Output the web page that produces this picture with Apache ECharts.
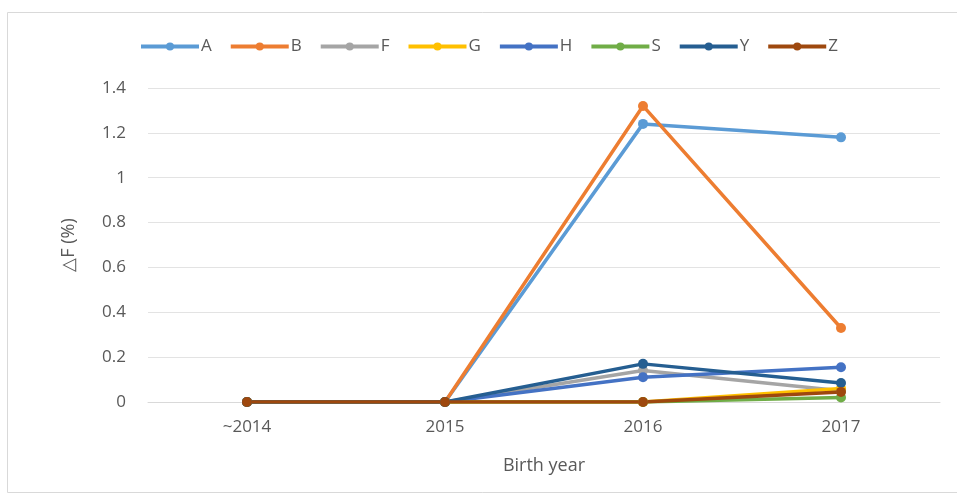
<!DOCTYPE html>
<html>
<head>
<meta charset="utf-8">
<script src="https://cdn.jsdelivr.net/npm/echarts@6/dist/echarts.min.js"></script>
<style>
  html, body { margin: 0; padding: 0; background: #fff; }
  #chart { width: 957px; height: 497px; }
</style>
</head>
<body>
<div id="chart"></div>
<script>
// Birth-year categories on the x axis
const categories = ['~2014', '2015', '2016', '2017'];

// ΔF (%) per group
const seriesA = [0, 0, 1.24, 1.18];
const seriesB = [0, 0, 1.32, 0.33];
const seriesF = [0, 0, 0.14, 0.05];
const seriesG = [0, 0, 0, 0.06];
const seriesH = [0, 0, 0.11, 0.155];
const seriesS = [0, 0, 0, 0.02];
const seriesY = [0, 0, 0.17, 0.085];
const seriesZ = [0, 0, 0, 0.045];

const names = ['A', 'B', 'F', 'G', 'H', 'S', 'Y', 'Z'];
const values = [seriesA, seriesB, seriesF, seriesG, seriesH, seriesS, seriesY, seriesZ];
const colors = ['#5B9BD5', '#ED7D31', '#A5A5A5', '#FFC000', '#4472C4', '#70AD47', '#255E91', '#9E480E'];

const chart = echarts.init(document.getElementById('chart'));

chart.setOption({
  animation: false,
  color: colors,
  textStyle: { fontFamily: 'Open Sans, Noto Sans, sans-serif' },
  graphic: [{
    type: 'rect',
    shape: { x: 7.5, y: 12.5, width: 960, height: 480 },
    style: { fill: 'none', stroke: '#d9d9d9', lineWidth: 1 },
    silent: true
  }],
  legend: {
    left: 134,
    top: 33,
    itemWidth: 58,
    itemHeight: 10,
    itemGap: 17,
    lineStyle: { width: 4 },
    textStyle: { color: '#595959', fontSize: 17, padding: [0, 0, 0, -3] },
    data: names
  },
  grid: { left: 148, right: 17, top: 88, bottom: 95 },
  xAxis: {
    type: 'category',
    data: categories,
    boundaryGap: true,
    name: 'Birth year',
    nameLocation: 'middle',
    nameGap: 55,
    nameTextStyle: { color: '#595959', fontSize: 18 },
    axisLine: { lineStyle: { color: '#d9d9d9' } },
    axisTick: { show: false },
    axisLabel: { color: '#595959', fontSize: 17, margin: 17 }
  },
  yAxis: {
    type: 'value',
    min: 0,
    max: 1.4,
    interval: 0.2,
    name: '△F (%)',
    nameLocation: 'middle',
    nameGap: 70,
    nameTextStyle: { color: '#595959', fontSize: 18 },
    axisLine: { show: false },
    axisTick: { show: false },
    axisLabel: { color: '#595959', fontSize: 17, margin: 22 },
    splitLine: { lineStyle: { color: '#e3e3e3' } }
  },
  series: names.map((n, i) => ({
    name: n,
    type: 'line',
    data: values[i],
    symbol: 'circle',
    symbolSize: 10,
    lineStyle: { width: 3.5 },
    itemStyle: { color: colors[i] }
  }))
});
</script>
</body>
</html>
